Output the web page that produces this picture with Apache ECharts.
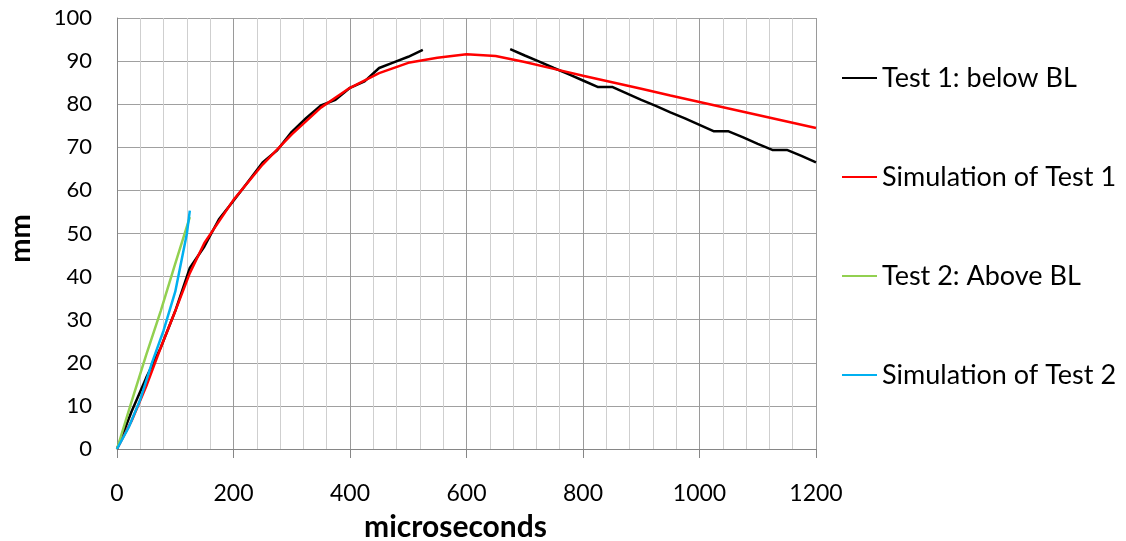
<!DOCTYPE html>
<html>
<head>
<meta charset="utf-8">
<script src="https://cdn.jsdelivr.net/npm/echarts@6/dist/echarts.min.js"></script>
<style>
	html, body { margin: 0; padding: 0; background: #fff; }
	#chartDiv { width: 1126px; height: 541px; }
</style>
</head>
<body>
<div id="chartDiv"></div>
<script>
// Test 1 (below BL), measured every 25 µs, gap where no reading
const test1Time = [0, 25, 50, 75, 100, 125, 150, 175, 200, 225, 250, 275, 300, 325, 350, 375, 400, 425, 450, 475, 500, 525,
	600,
	675, 700, 725, 750, 775, 800, 825, 850, 875, 900, 925, 950, 975, 1000, 1025, 1050, 1075, 1100, 1125, 1150, 1175, 1200];
const test1Mm = [0, 8.7, 16.5, 23.5, 32, 42, 47, 53.3, 57.6, 62, 66.5, 69.3, 73.6, 76.8, 79.7, 81, 83.8, 85.3, 88.4, 89.7, 91, 92.6,
	null,
	92.8, 91.3, 89.9, 88.4, 87, 85.5, 84, 84, 82.5, 81, 79.6, 78.1, 76.7, 75.2, 73.7, 73.7, 72.3, 70.8, 69.4, 69.4, 68, 66.5];

// Simulation of Test 1
const sim1Time = [0, 25, 50, 75, 100, 125, 150, 200, 250, 300, 350, 400, 450, 500, 550, 600, 650, 700, 750, 800, 850, 900, 950, 1000, 1050, 1100, 1150, 1200];
const sim1Mm = [0, 6.5, 14.5, 23.5, 32, 40.8, 47.8, 57.8, 66, 73, 79.2, 83.8, 87.2, 89.6, 90.8, 91.6, 91.2, 89.8, 88.2, 86.6, 85.1, 83.6, 82, 80.5, 79, 77.5, 76, 74.5];

// Test 2 (above BL)
const test2Time = [0, 25, 50, 75, 100, 125];
const test2Mm = [0, 11, 21.8, 32, 43, 53.8];

// Simulation of Test 2
const sim2Time = [0, 20, 40, 60, 80, 100, 120, 125];
const sim2Mm = [0, 5, 11.5, 20, 27.5, 36.5, 50, 55.3];

const xTicks = [0, 1200, 200];
const yTicks = [0, 100, 10];

const pairs = (xs, ys) => xs.map((x, i) => [x, ys[i]]);

chartInit = () => {
	let chart = echarts.init(document.getElementById('chartDiv'));
	const font = 'Lato';
	const lineSeries = (name, color, data) => ({
		name: name,
		type: 'line',
		showSymbol: false,
		symbol: 'none',
		connectNulls: false,
		animation: false,
		lineStyle: { color: color, width: 2.5 },
		itemStyle: { color: color },
		data: data
	});
	let option = {
		animation: false,
		grid: {
			left: 117,
			right: 310,
			top: 18,
			bottom: 92,
			containLabel: false,
			outerBoundsMode: 'none'
		},
		legend: {
			orient: 'vertical',
			left: 837,
			top: 58,
			icon: 'rect',
			itemWidth: 35,
			itemHeight: 2,
			itemGap: 69,
			textStyle: {
				fontFamily: font,
				fontSize: 27,
				lineHeight: 30,
				color: '#000'
			},
			data: ['Test 1: below BL', 'Simulation of Test 1', 'Test 2: Above BL', 'Simulation of Test 2']
		},
		xAxis: {
			type: 'value',
			min: xTicks[0],
			max: xTicks[1],
			interval: xTicks[2],
			name: 'microseconds',
			nameLocation: 'middle',
			nameGap: 63,
			nameTextStyle: {
				fontFamily: font,
				fontSize: 30,
				fontWeight: 'bold',
				color: '#000',
				padding: [0, 22, 0, 0]
			},
			axisLine: { show: true, lineStyle: { color: '#868686', width: 1 } },
			axisTick: { show: true, length: 9, lineStyle: { color: '#868686' } },
			axisLabel: {
				margin: 33,
				fontFamily: font,
				fontSize: 23,
				color: '#000',
				formatter: v => String(v)
			},
			splitLine: { show: true, lineStyle: { color: '#9a9a9a', width: 1 } },
			minorTick: { show: false, splitNumber: 5 },
			minorSplitLine: { show: true, lineStyle: { color: '#cfcfcf', width: 1 } }
		},
		yAxis: {
			type: 'value',
			min: yTicks[0],
			max: yTicks[1],
			interval: yTicks[2],
			name: 'mm',
			nameLocation: 'middle',
			nameGap: 82,
			nameTextStyle: {
				fontFamily: font,
				fontSize: 29,
				fontWeight: 'bold',
				color: '#000',
				padding: [0, 10, 0, 0]
			},
			axisLine: { show: true, lineStyle: { color: '#868686', width: 1 } },
			axisTick: { show: false },
			axisLabel: {
				margin: 25,
				fontFamily: font,
				fontSize: 22,
				color: '#000'
			},
			splitLine: { show: true, lineStyle: { color: '#a0a0a0', width: 1 } }
		},
		series: [
			lineSeries('Test 1: below BL', '#000000', pairs(test1Time, test1Mm)),
			lineSeries('Simulation of Test 1', '#ff0000', pairs(sim1Time, sim1Mm)),
			lineSeries('Test 2: Above BL', '#92d050', pairs(test2Time, test2Mm)),
			lineSeries('Simulation of Test 2', '#00b0f0', pairs(sim2Time, sim2Mm))
		]
	};
	chart.setOption(option);
};
chartInit();
</script>
</body>
</html>
